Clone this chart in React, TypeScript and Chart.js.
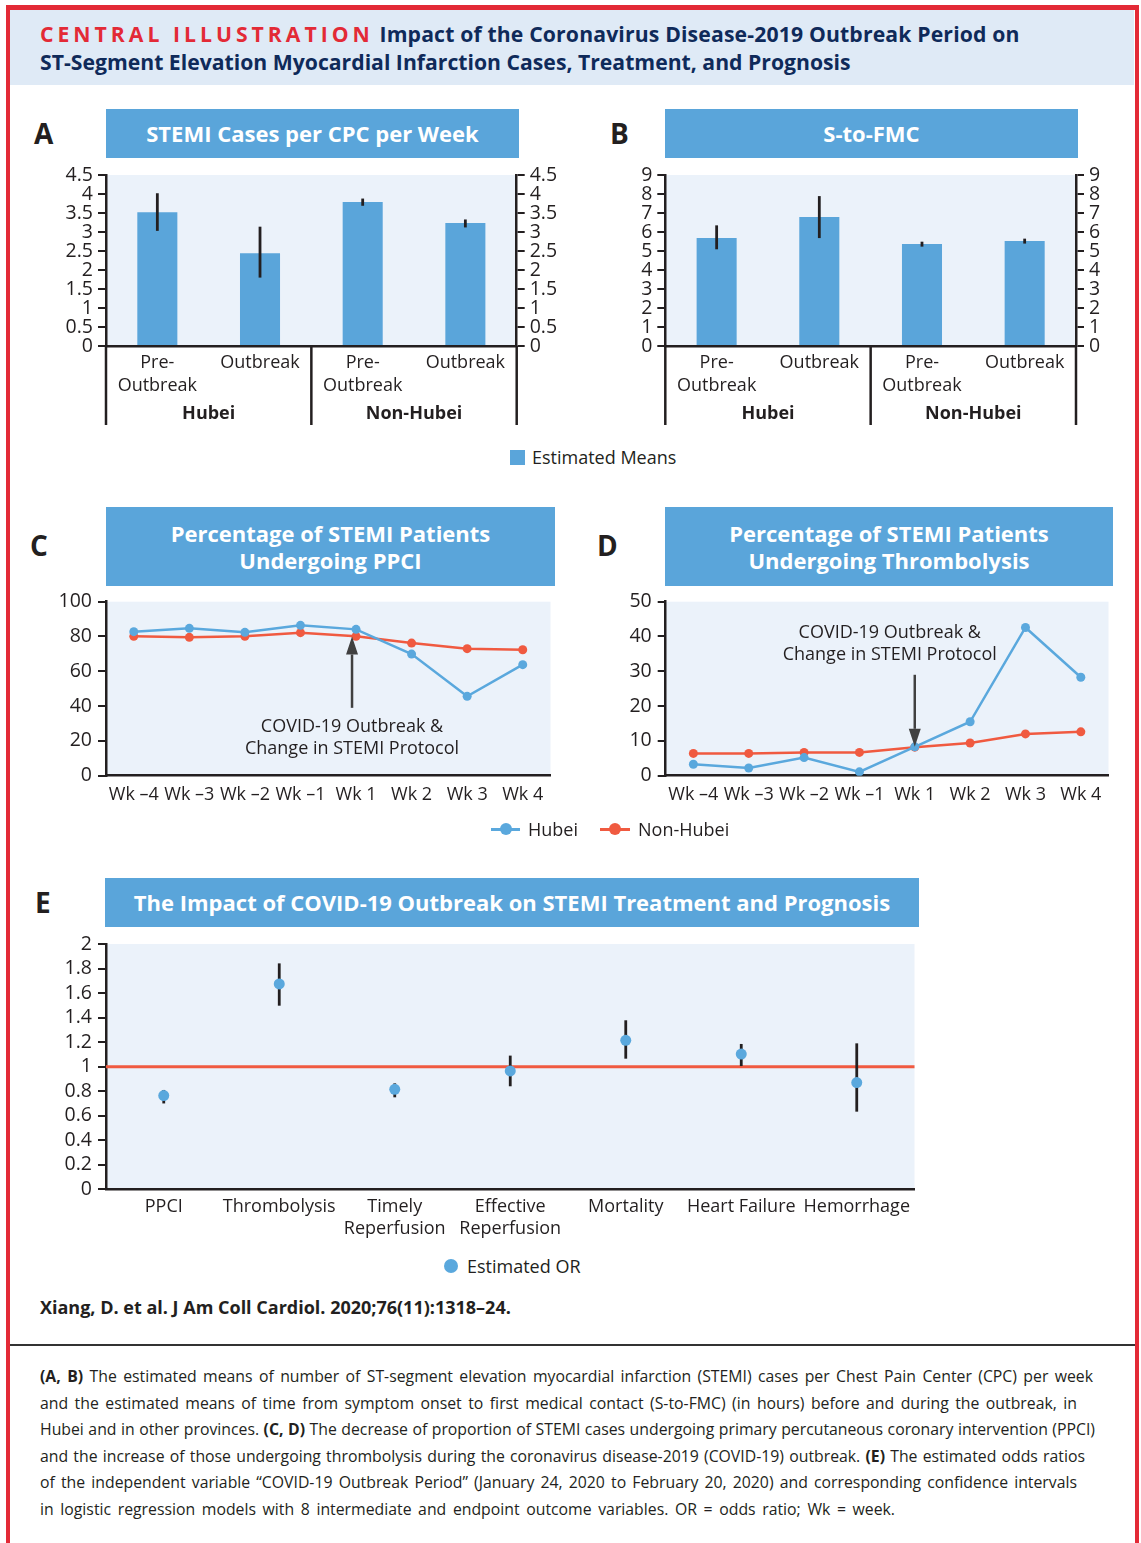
import React, { useEffect, useRef } from "react";
import { Chart, registerables } from "chart.js";

Chart.register(...registerables);

const FONT = "'Open Sans', 'Noto Sans', sans-serif";
const INK = "#231f20";
const AXIS = "#231f20";
const BLUE = "#5aa5da";
const LINE_BLUE = "#5aa8dd";
const RED = "#f05a40";
const PLOT_BG = "#ebf2fa";
const HEADER_BG = "#dfeaf6";
const BORDER_RED = "#e32a36";
const NAVY = "#0f2a5a";

Chart.defaults.font.family = FONT;
Chart.defaults.font.size = 18;
Chart.defaults.color = INK;

// ---------- data ----------
const groupLabels = ["Hubei", "Non-Hubei"];
const periodLabels: (string | string[])[] = [["Pre-", "Outbreak"], "Outbreak", ["Pre-", "Outbreak"], "Outbreak"];

const casesMeans = [3.52, 2.44, 3.79, 3.24];
const casesLow = [3.03, 1.8, 3.69, 3.12];
const casesHigh = [4.02, 3.14, 3.88, 3.33];
const casesTicks = { min: 0, max: 4.5, step: 0.5 };

const sfmcMeans = [5.68, 6.79, 5.37, 5.53];
const sfmcLow = [5.09, 5.68, 5.23, 5.39];
const sfmcHigh = [6.35, 7.89, 5.49, 5.65];
const sfmcTicks = { min: 0, max: 9, step: 1 };

const weekLabels = ["Wk \u20134", "Wk \u20133", "Wk \u20132", "Wk \u20131", "Wk 1", "Wk 2", "Wk 3", "Wk 4"];
const ppciHubei = [82.8, 84.7, 82.4, 86.4, 84.1, 69.9, 45.6, 63.8];
const ppciNonHubei = [80.1, 79.5, 80.1, 82.2, 80.1, 76.2, 73.0, 72.4];
const thrombHubei = [3.3, 2.2, 5.2, 1.1, 8.3, 15.5, 42.6, 28.3];
const thrombNonHubei = [6.4, 6.4, 6.7, 6.7, 8.2, 9.4, 12.0, 12.6];
const outbreakWeek = "Wk 1";
const annotationLines = ["COVID-19 Outbreak &", "Change in STEMI Protocol"];
const ppciArrow = { tip: 80, tail: 39 };
const thrombArrow = { tip: 8.3, tail: 29 };

const outcomeLabels: (string | string[])[] = [
  "PPCI",
  "Thrombolysis",
  ["Timely", "Reperfusion"],
  ["Effective", "Reperfusion"],
  "Mortality",
  "Heart Failure",
  "Hemorrhage",
];
const orValues = [0.764, 1.674, 0.815, 0.965, 1.215, 1.103, 0.87];
const orLow = [0.7, 1.497, 0.75, 0.84, 1.065, 1.005, 0.633];
const orHigh = [0.81, 1.842, 0.864, 1.09, 1.378, 1.185, 1.19];
const orReference = 1;

// ---------- plugins ----------
const plotBg = {
  id: "plotBg",
  beforeDraw(chart: any) {
    const { ctx, chartArea: a } = chart;
    ctx.save();
    ctx.fillStyle = PLOT_BG;
    ctx.fillRect(a.left, a.top, a.right - a.left, a.bottom - a.top);
    ctx.restore();
  },
};

function errorBars(low: number[], high: number[], phase: "before" | "after", width: number) {
  const draw = (chart: any) => {
    const meta = chart.getDatasetMeta(0);
    const y = chart.scales.y;
    const ctx = chart.ctx;
    ctx.save();
    ctx.strokeStyle = INK;
    ctx.lineWidth = width;
    meta.data.forEach((el: any, i: number) => {
      ctx.beginPath();
      ctx.moveTo(el.x, y.getPixelForValue(high[i]));
      ctx.lineTo(el.x, y.getPixelForValue(low[i]));
      ctx.stroke();
    });
    ctx.restore();
  };
  return phase === "before"
    ? { id: "errorBars", beforeDatasetsDraw: draw }
    : { id: "errorBars", afterDatasetsDraw: draw };
}

function groupPlugin(groups: string[], perGroup: number, drop: number, labelOffset: number) {
  return {
    id: "groups",
    afterDraw(chart: any) {
      const { ctx, chartArea: a, scales } = chart;
      const x = scales.x;
      const catW = x.getPixelForValue(1) - x.getPixelForValue(0);
      ctx.save();
      ctx.strokeStyle = AXIS;
      ctx.lineWidth = 2.5;
      const edges: number[] = [];
      for (let g = 0; g <= groups.length; g++) {
        edges.push(x.getPixelForValue(g * perGroup) - catW / 2);
      }
      edges.forEach((ex) => {
        ctx.beginPath();
        ctx.moveTo(ex, a.bottom);
        ctx.lineTo(ex, a.bottom + drop);
        ctx.stroke();
      });
      ctx.fillStyle = INK;
      ctx.font = `bold 18px ${FONT}`;
      ctx.textAlign = "center";
      ctx.textBaseline = "middle";
      groups.forEach((g, i) => {
        ctx.fillText(g, (edges[i] + edges[i + 1]) / 2, a.bottom + labelOffset);
      });
      ctx.restore();
    },
  };
}

function arrowPlugin(arrow: { tip: number; tail: number }, textBelow: boolean, dx: number) {
  return {
    id: "arrow",
    afterDatasetsDraw(chart: any) {
      const { ctx, scales } = chart;
      const x = scales.x.getPixelForValue(scales.x.getLabels().indexOf(outbreakWeek)) + dx;
      const yTip = scales.y.getPixelForValue(arrow.tip);
      const yTail = scales.y.getPixelForValue(arrow.tail);
      const dir = yTip < yTail ? -1 : 1;
      const head = 18;
      ctx.save();
      ctx.strokeStyle = "#404040";
      ctx.fillStyle = "#404040";
      ctx.lineWidth = 2.5;
      ctx.beginPath();
      ctx.moveTo(x, yTail);
      ctx.lineTo(x, yTip - dir * head);
      ctx.stroke();
      ctx.beginPath();
      ctx.moveTo(x, yTip);
      ctx.lineTo(x - 6, yTip - dir * head);
      ctx.lineTo(x + 6, yTip - dir * head);
      ctx.closePath();
      ctx.fill();
      ctx.fillStyle = INK;
      ctx.font = `18px ${FONT}`;
      ctx.textAlign = "center";
      ctx.textBaseline = "middle";
      if (textBelow) {
        ctx.fillText(annotationLines[0], x, yTail + 19);
        ctx.fillText(annotationLines[1], x, yTail + 41);
      } else {
        ctx.fillText(annotationLines[0], x - 25, yTail - 42);
        ctx.fillText(annotationLines[1], x - 25, yTail - 20);
      }
      ctx.restore();
    },
  };
}

const refLine = {
  id: "refLine",
  beforeDatasetsDraw(chart: any) {
    const { ctx, chartArea: a, scales } = chart;
    const y = scales.y.getPixelForValue(orReference);
    ctx.save();
    ctx.strokeStyle = RED;
    ctx.lineWidth = 3;
    ctx.beginPath();
    ctx.moveTo(a.left, y);
    ctx.lineTo(a.right, y);
    ctx.stroke();
    ctx.restore();
  },
};

// ---------- axis helpers ----------
const plainNumber = (v: any) => String(Math.round(Number(v) * 100) / 100);

function yAxis(position: "left" | "right", t: { min: number; max: number; step: number }, width: number, pad: number) {
  return {
    position,
    display: true,
    min: t.min,
    max: t.max,
    ticks: {
      stepSize: t.step,
      padding: pad,
      color: INK,
      font: { size: 19.5 },
      autoSkip: false,
      callback: plainNumber,
    },
    grid: { drawOnChartArea: false, drawTicks: true, tickLength: 8, color: AXIS, lineWidth: 2 },
    border: { display: true, color: AXIS, width: 2.5 },
    afterFit: (s: any) => {
      s.width = width;
    },
  };
}

function xAxis(height: number, pad: number, lineHeight: number) {
  return {
    offset: true,
    ticks: { padding: pad, color: INK, font: { size: 18, lineHeight }, maxRotation: 0, autoSkip: false },
    grid: { display: false, drawTicks: false },
    border: { display: true, color: AXIS, width: 2.5 },
    afterFit: (s: any) => {
      s.height = height;
    },
  };
}

const baseOptions = (padTop: number, padRight = 0) => ({
  animation: false as const,
  responsive: false,
  devicePixelRatio: 1,
  layout: { padding: { top: padTop, right: padRight, left: 0, bottom: 0 } },
  plugins: { legend: { display: false }, tooltip: { enabled: false } },
});

// ---------- chart configs ----------
function barConfig(means: number[], low: number[], high: number[], t: any, yW: number, y2W: number) {
  return {
    type: "bar",
    data: {
      labels: periodLabels,
      datasets: [
        {
          label: "Estimated Means",
          data: means,
          backgroundColor: BLUE,
          barPercentage: 0.39,
          categoryPercentage: 1,
        },
      ],
    },
    options: {
      ...baseOptions(25),
      scales: {
        x: xAxis(94, 5, 23 / 18),
        y: yAxis("left", t, yW, 5),
        y2: yAxis("right", t, y2W, 5),
      },
    },
    plugins: [plotBg, errorBars(low, high, "after", 2.8), groupPlugin(groupLabels, 2, 79, 68)],
  };
}

function lineConfig(hubei: number[], nonHubei: number[], max: number, step: number, yW: number, arrow: any, textBelow: boolean, dx: number) {
  const ds = (label: string, data: number[], color: string) => ({
    label,
    data,
    borderColor: color,
    backgroundColor: color,
    borderWidth: 2.5,
    pointRadius: 4.5,
    pointBorderWidth: 0,
    pointBackgroundColor: color,
    tension: 0,
  });
  return {
    type: "line",
    data: {
      labels: weekLabels,
      datasets: [ds("Hubei", hubei, LINE_BLUE), ds("Non-Hubei", nonHubei, RED)],
    },
    options: {
      ...baseOptions(21.7),
      scales: {
        x: xAxis(44.3, 8.5, 1.2),
        y: yAxis("left", { min: 0, max, step }, yW, 6),
      },
    },
    plugins: [plotBg, arrowPlugin(arrow, textBelow, dx)],
  };
}

function orConfig() {
  return {
    type: "line",
    data: {
      labels: outcomeLabels,
      datasets: [
        {
          label: "Estimated OR",
          data: orValues,
          showLine: false,
          pointRadius: 5.5,
          pointBorderWidth: 0,
          pointBackgroundColor: LINE_BLUE,
          borderColor: LINE_BLUE,
          backgroundColor: LINE_BLUE,
        },
      ],
    },
    options: {
      ...baseOptions(19, 0.7),
      scales: {
        x: xAxis(55.7, 6.7, 22 / 18),
        y: yAxis("left", { min: 0, max: 2, step: 0.2 }, 76, 6),
      },
    },
    plugins: [plotBg, refLine, errorBars(orLow, orHigh, "before", 2.8)],
  };
}

// ---------- components ----------
function ChartBox({ left, top, width, height, make }: { left: number; top: number; width: number; height: number; make: () => any }) {
  const ref = useRef<HTMLCanvasElement>(null);
  useEffect(() => {
    const chart = new Chart(ref.current as HTMLCanvasElement, make());
    return () => chart.destroy();
  }, []);
  return (
    <canvas
      ref={ref}
      width={width}
      height={height}
      style={{ position: "absolute", left, top, width, height }}
    />
  );
}

const abs = (left: number, top: number, extra: React.CSSProperties = {}): React.CSSProperties => ({
  position: "absolute",
  left,
  top,
  ...extra,
});

function TitleBox({ left, top, width, height, lines }: { left: number; top: number; width: number; height: number; lines: string[] }) {
  return (
    <div
      style={abs(left, top, {
        width,
        height,
        background: BLUE,
        color: "#fff",
        fontWeight: 700,
        fontSize: 22,
        lineHeight: "27px",
        display: "flex",
        flexDirection: "column",
        alignItems: "center",
        justifyContent: "center",
        textAlign: "center",
      })}
    >
      {lines.map((l, i) => (
        <div key={i}>{l}</div>
      ))}
    </div>
  );
}

function PanelLetter({ left, cy, text }: { left: number; cy: number; text: string }) {
  return (
    <div style={abs(left, cy - 20, { fontSize: 28, fontWeight: 700, lineHeight: "40px" })}>{text}</div>
  );
}

const captionLines: { b?: string; t?: string }[][] = [
  [{ b: "(A, B)" }, { t: " The estimated means of number of ST-segment elevation myocardial infarction (STEMI) cases per Chest Pain Center (CPC) per week" }],
  [{ t: "and the estimated means of time from symptom onset to first medical contact (S-to-FMC) (in hours) before and during the outbreak, in" }],
  [{ t: "Hubei and in other provinces. " }, { b: "(C, D)" }, { t: " The decrease of proportion of STEMI cases undergoing primary percutaneous coronary intervention (PPCI)" }],
  [{ t: "and the increase of those undergoing thrombolysis during the coronavirus disease-2019 (COVID-19) outbreak. " }, { b: "(E)" }, { t: " The estimated odds ratios" }],
  [{ t: "of the independent variable \u201cCOVID-19 Outbreak Period\u201d (January 24, 2020 to February 20, 2020) and corresponding confidence intervals" }],
  [{ t: "in logistic regression models with 8 intermediate and endpoint outcome variables. OR = odds ratio; Wk = week." }],
];
const captionLineWidths = [1053, 1037, 1055, 1045, 1037, 855];

export default function App() {
  return (
    <div
      style={{
        position: "absolute",
        left: 0,
        top: 0,
        width: 1141,
        height: 1543,
        overflow: "hidden",
        background: "#fff",
        fontFamily: FONT,
        color: INK,
      }}
    >
      {/* header band */}
      <div style={abs(10, 10, { width: 1124, height: 75, background: HEADER_BG })} />
      {/* red frame */}
      <div
        style={abs(6, 5, {
          width: 1133,
          height: 1600,
          boxSizing: "border-box",
          borderTop: `5px solid ${BORDER_RED}`,
          borderLeft: `4px solid ${BORDER_RED}`,
          borderRight: `4.5px solid ${BORDER_RED}`,
        })}
      />
      <div style={abs(40, 19, { fontSize: 21.2, fontWeight: 700, lineHeight: "30px", whiteSpace: "nowrap", color: NAVY })}>
        <span style={{ color: BORDER_RED, letterSpacing: 4 }}>CENTRAL ILLUSTRATION</span>
        <span style={{ letterSpacing: 0.15 }}> Impact of the Coronavirus Disease-2019 Outbreak Period on</span>
      </div>
      <div style={abs(40, 47, { fontSize: 21.2, fontWeight: 700, lineHeight: "30px", whiteSpace: "nowrap", color: NAVY })}>
        ST-Segment Elevation Myocardial Infarction Cases, Treatment, and Prognosis
      </div>

      {/* Panel A / B */}
      <PanelLetter left={34} cy={133} text="A" />
      <TitleBox left={106} top={109} width={413} height={49} lines={["STEMI Cases per CPC per Week"]} />
      <ChartBox
        left={30}
        top={150}
        width={535}
        height={290}
        make={() => barConfig(casesMeans, casesLow, casesHigh, casesTicks, 76, 48.3)}
      />
      <PanelLetter left={610} cy={133} text="B" />
      <TitleBox left={665} top={109} width={413} height={49} lines={["S-to-FMC"]} />
      <ChartBox
        left={590}
        top={150}
        width={535}
        height={290}
        make={() => barConfig(sfmcMeans, sfmcLow, sfmcHigh, sfmcTicks, 75.3, 49)}
      />
      {/* legend A/B */}
      <div style={abs(510, 450, { width: 15, height: 15, background: BLUE })} />
      <div style={abs(532, 446, { fontSize: 18, lineHeight: "22px", whiteSpace: "nowrap" })}>Estimated Means</div>

      {/* Panel C / D */}
      <PanelLetter left={30} cy={545} text="C" />
      <TitleBox left={106} top={507} width={449} height={79} lines={["Percentage of STEMI Patients", "Undergoing PPCI"]} />
      <ChartBox
        left={40}
        top={580}
        width={515}
        height={240}
        make={() => lineConfig(ppciHubei, ppciNonHubei, 100, 20, 66, ppciArrow, true, -4)}
      />
      <PanelLetter left={597} cy={545} text="D" />
      <TitleBox left={665} top={507} width={448} height={79} lines={["Percentage of STEMI Patients", "Undergoing Thrombolysis"]} />
      <ChartBox
        left={600}
        top={580}
        width={513}
        height={240}
        make={() => lineConfig(thrombHubei, thrombNonHubei, 50, 10, 65.7, thrombArrow, false, 0)}
      />
      {/* legend C/D */}
      <div style={abs(491, 828, { width: 29, height: 2.5, background: LINE_BLUE })} />
      <div style={abs(500, 823, { width: 12, height: 12, borderRadius: 6, background: LINE_BLUE })} />
      <div style={abs(528, 818, { fontSize: 18, lineHeight: "22px" })}>Hubei</div>
      <div style={abs(600, 828, { width: 30, height: 2.5, background: RED })} />
      <div style={abs(609, 823, { width: 12, height: 12, borderRadius: 6, background: RED })} />
      <div style={abs(638, 818, { fontSize: 18, lineHeight: "22px" })}>Non-Hubei</div>

      {/* Panel E */}
      <PanelLetter left={35} cy={902} text="E" />
      <TitleBox
        left={105}
        top={878}
        width={814}
        height={49}
        lines={["The Impact of COVID-19 Outbreak on STEMI Treatment and Prognosis"]}
      />
      <ChartBox left={30} top={925} width={890} height={320} make={orConfig} />
      <div style={abs(444, 1259, { width: 14, height: 14, borderRadius: 7, background: LINE_BLUE })} />
      <div style={abs(467, 1255, { fontSize: 18, lineHeight: "22px", whiteSpace: "nowrap" })}>Estimated OR</div>

      {/* citation */}
      <div style={abs(40, 1296, { fontSize: 18, fontWeight: 700, lineHeight: "22px", whiteSpace: "nowrap" })}>
        Xiang, D. et al. J Am Coll Cardiol. 2020;76(11):1318{"\u2013"}24.
      </div>
      <div style={abs(10, 1344, { width: 1125, height: 2, background: "#333" })} />

      {/* caption */}
      <div style={abs(40, 1363, { fontSize: 15.8, lineHeight: "26.6px" })}>
        {captionLines.map((line, i) => (
          <div
            key={i}
            style={{
              width: captionLineWidths[i],
              textAlign: "justify",
              textAlignLast: "justify",
              whiteSpace: "normal",
              height: 26.6,
              overflow: "visible",
            }}
          >
            {line.map((seg, j) =>
              seg.b ? (
                <b key={j}>{seg.b}</b>
              ) : (
                <span key={j}>{seg.t}</span>
              )
            )}
          </div>
        ))}
      </div>
    </div>
  );
}
